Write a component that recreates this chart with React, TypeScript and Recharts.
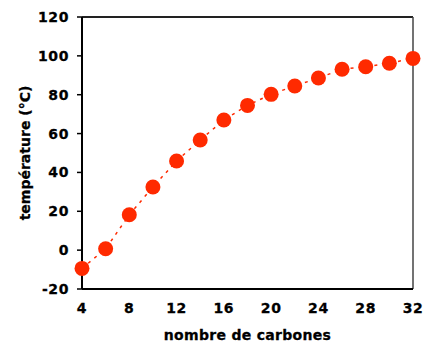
import React from 'react';
import { ComposedChart, Line, XAxis, YAxis, ReferenceLine } from 'recharts';

const carbons = [4, 6, 8, 10, 12, 14, 16, 18, 20, 22, 24, 26, 28, 30, 32];
const temperatures = [-9.4, 0.7, 18.2, 32.5, 45.9, 56.7, 67, 74.5, 80.2, 84.5, 88.6, 93.1, 94.4, 96.2, 98.7];
const xTicks = [4, 8, 12, 16, 20, 24, 28, 32];
const yTicks = [-20, 0, 20, 40, 60, 80, 100, 120];

const data = carbons.map((c, i) => ({ c, t: temperatures[i] }));

const font = {
  fontFamily: '"DejaVu Sans", sans-serif',
  fontWeight: 'bold' as const,
  fontSize: 14,
  fill: '#000',
  stroke: '#000',
  strokeWidth: 0.3,
};
const tickFont = { ...font, letterSpacing: 0.6 };
const xLabelFont = { ...font, letterSpacing: 0.3 };

export default function App() {
  return (
    <div style={{ position: 'absolute', left: 0, top: 0, width: 424, height: 345, background: '#fff' }}>
      <ComposedChart width={424} height={345} data={data} margin={{ top: 17, right: 11, bottom: 0, left: 0 }}>
        <XAxis
          dataKey="c"
          type="number"
          domain={[4, 32]}
          ticks={xTicks}
          tickLine={false}
          tickSize={0}
          tickMargin={14}
          height={56}
          axisLine={{ stroke: '#000', strokeWidth: 2 }}
          tick={tickFont}
          label={{ value: 'nombre de carbones', position: 'insideBottom', offset: 5, style: xLabelFont }}
        />
        <YAxis
          type="number"
          domain={[-20, 120]}
          ticks={yTicks}
          width={82}
          tickSize={5}
          tickMargin={8}
          axisLine={{ stroke: '#000', strokeWidth: 2 }}
          tickLine={{ stroke: '#000', strokeWidth: 1.5 }}
          tick={tickFont}
          label={{ value: 'température (°C)', angle: -90, position: 'insideLeft', offset: 25, style: { ...font, textAnchor: 'middle' } }}
        />
        <ReferenceLine y={120} stroke="#222" strokeWidth={2} />
        <ReferenceLine x={32} stroke="#444" strokeWidth={1.5} />
        <Line
          dataKey="t"
          stroke="#FF2A00"
          strokeWidth={1.5}
          strokeDasharray="3 5"
          dot={{ r: 7.5, fill: '#FF2A00', stroke: 'none' }}
          activeDot={false}
          isAnimationActive={false}
        />
      </ComposedChart>
    </div>
  );
}
